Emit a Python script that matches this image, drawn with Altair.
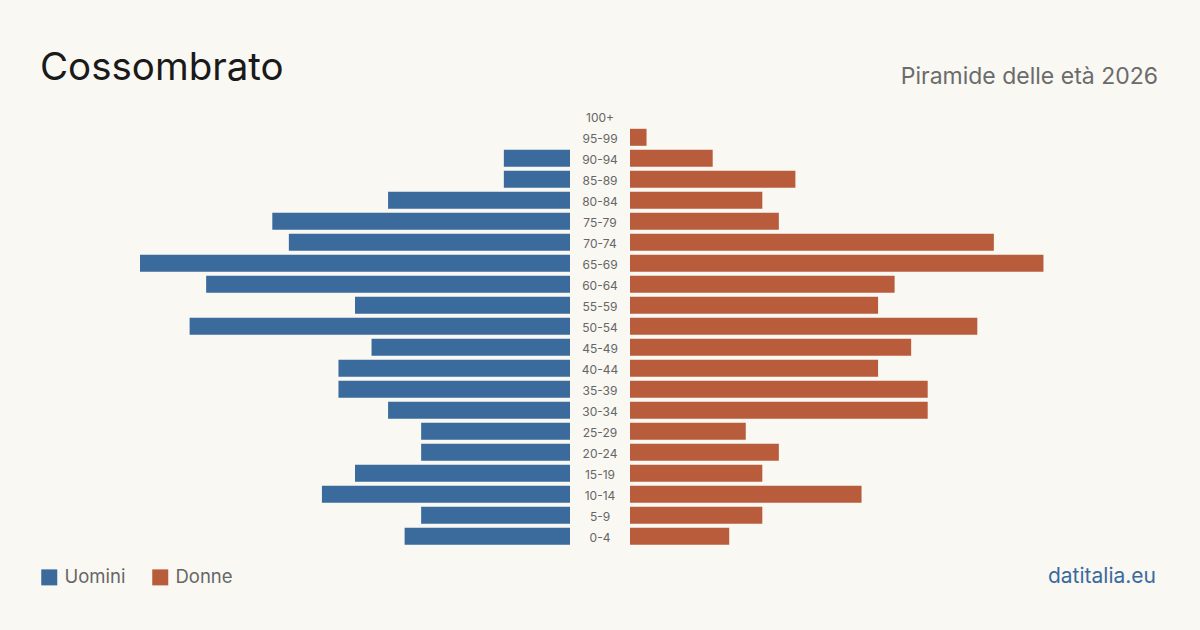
import altair as alt
import pandas as pd

ages = ["0-4", "5-9", "10-14", "15-19", "20-24", "25-29", "30-34", "35-39", "40-44",
        "45-49", "50-54", "55-59", "60-64", "65-69", "70-74", "75-79", "80-84",
        "85-89", "90-94", "95-99", "100+"]
men = [10, 9, 15, 13, 9, 9, 11, 14, 14, 12, 23, 13, 22, 26, 17, 18, 11, 4, 4, 0, 0]
women = [6, 8, 14, 8, 9, 7, 18, 18, 15, 17, 21, 15, 16, 25, 22, 9, 8, 10, 5, 1, 0]

sexes = ["Uomini", "Donne"]
colors = ["#3a6b9c", "#b85c3c"]

rows = []
for a, m, w in zip(ages, men, women):
    rows.append({"age": a, "sex": "Uomini", "value": m})
    rows.append({"age": a, "sex": "Donne", "value": w})
df = pd.DataFrame(rows)

FONT = "Inter"
order = list(reversed(ages))
yscale = alt.Scale(domain=order, range=[107.8, 544.8], paddingInner=0.19, paddingOuter=0)
color = alt.Color("sex:N", scale=alt.Scale(domain=sexes, range=colors),
                  legend=alt.Legend(orient="none", legendX=40, legendY=568, direction="horizontal",
                                    title=None, symbolType="square", symbolSize=256,
                                    symbolStrokeWidth=0, symbolOpacity=1,
                                    labelFontSize=18.5, labelColor="#666666", labelFont=FONT,
                                    labelOffset=6, columnPadding=25, padding=0))

base = alt.Chart(df)

men_bars = base.transform_filter(alt.datum.sex == "Uomini").mark_bar().encode(
    x=alt.X("value:Q", scale=alt.Scale(domain=[0, 26], range=[570, 140], nice=False), axis=None),
    y=alt.Y("age:N", scale=yscale, axis=None, sort=order),
    color=color,
)
women_bars = base.transform_filter(alt.datum.sex == "Donne").mark_bar().encode(
    x=alt.X("value:Q", scale=alt.Scale(domain=[0, 26], range=[630, 1060], nice=False), axis=None),
    y=alt.Y("age:N", scale=yscale, axis=None, sort=order),
    color=color,
)
bars = alt.layer(men_bars, women_bars).resolve_scale(x="independent")

labels = base.transform_filter(alt.datum.sex == "Uomini").mark_text(
    font=FONT, fontSize=12, color="#666666", align="center", baseline="middle", dy=1.5
).encode(
    x=alt.value(600),
    y=alt.Y("age:N", scale=yscale, axis=None, sort=order, bandPosition=0.5),
    text="age:N",
)

one = alt.Data(values=[{"k": 1}])
title = alt.Chart(one).mark_text(font=FONT, fontSize=38.5, color="#1a1a1a", align="left",
                                 baseline="alphabetic").encode(
    x=alt.value(40), y=alt.value(80), text=alt.value("Cossombrato"))
subtitle = alt.Chart(one).mark_text(font=FONT, fontSize=23, color="#6b6b6b", align="right",
                                    baseline="alphabetic").encode(
    x=alt.value(1158), y=alt.value(84), text=alt.value("Piramide delle età 2026"))
source = alt.Chart(one).mark_text(font=FONT, fontSize=21, color="#3a6b9c", align="right",
                                  baseline="alphabetic").encode(
    x=alt.value(1156), y=alt.value(583), text=alt.value("datitalia.eu"))

chart = alt.layer(bars, labels, title, subtitle, source).properties(
    width=1200, height=630, background="#f9f8f3", padding=0,
    autosize=alt.AutoSizeParams(type="none"),
).configure_view(stroke=None)

chart.save("out.html", embed_options={"renderer": "svg", "actions": False})
